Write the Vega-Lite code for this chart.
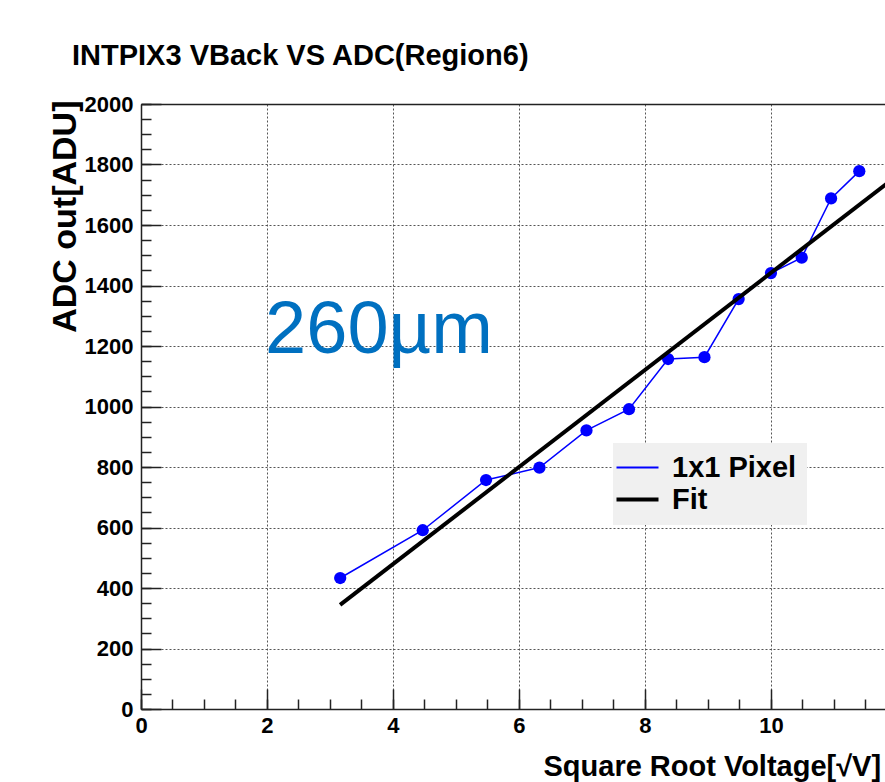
{
  "$schema": "https://vega.github.io/schema/vega-lite/v6.json",
  "autosize": {"type": "none"},
  "padding": {"left": 141, "top": 104, "right": 0, "bottom": 73},
  "width": 744,
  "height": 605,
  "background": "white",
  "title": {
    "text": "INTPIX3 VBack VS ADC(Region6)",
    "anchor": "start",
    "frame": "group",
    "dx": -69,
    "offset": 22,
    "font": "Liberation Sans",
    "fontWeight": "bold",
    "fontSize": 29,
    "color": "black"
  },
  "config": {
    "view": {"stroke": null},
    "axis": {
      "domainColor": "#222",
      "domainWidth": 1.5,
      "tickColor": "#222",
      "tickWidth": 1.5,
      "labelFont": "Liberation Sans",
      "labelFontWeight": "bold",
      "labelFontSize": 22,
      "labelColor": "black",
      "titleFont": "Liberation Sans",
      "titleFontWeight": "bold",
      "titleColor": "black",
      "gridColor": "#555",
      "gridDash": [2, 2],
      "gridWidth": 1
    },
    "legend": {
      "orient": "none",
      "legendX": 472,
      "legendY": 339,
      "fillColor": "#f0f0f0",
      "padding": 10,
      "labelFont": "Liberation Sans",
      "labelFontWeight": "bold",
      "labelFontSize": 29,
      "labelColor": "black",
      "symbolType": "stroke",
      "symbolSize": 1764,
      "symbolStrokeWidth": 3,
      "rowPadding": 2,
      "labelOffset": 20
    }
  },
  "datasets": {
    "pts": [
      {"series": "1x1 Pixel", "x": 3.162, "y": 433},
      {"series": "1x1 Pixel", "x": 4.472, "y": 591},
      {"series": "1x1 Pixel", "x": 5.477, "y": 757},
      {"series": "1x1 Pixel", "x": 6.325, "y": 798},
      {"series": "1x1 Pixel", "x": 7.071, "y": 921},
      {"series": "1x1 Pixel", "x": 7.746, "y": 991},
      {"series": "1x1 Pixel", "x": 8.367, "y": 1157},
      {"series": "1x1 Pixel", "x": 8.944, "y": 1163},
      {"series": "1x1 Pixel", "x": 9.487, "y": 1355},
      {"series": "1x1 Pixel", "x": 10.0, "y": 1441},
      {"series": "1x1 Pixel", "x": 10.488, "y": 1492},
      {"series": "1x1 Pixel", "x": 10.954, "y": 1688},
      {"series": "1x1 Pixel", "x": 11.402, "y": 1778}
    ],
    "fit": [
      {"series": "Fit", "x": 3.16, "y": 344},
      {"series": "Fit", "x": 12.0, "y": 1763}
    ],
    "note": [
      {"x": 1.97, "y": 1177, "label": "260µm"}
    ]
  },
  "resolve": {"axis": {"x": "independent", "y": "independent"}},
  "layer": [
    {
      "data": {"name": "pts"},
      "mark": {"type": "line", "strokeWidth": 1.5, "clip": true, "point": {"filled": true, "size": 150, "opacity": 1}},
      "encoding": {
        "x": {
          "field": "x", "type": "quantitative",
          "scale": {"domain": [0, 11.81], "nice": false, "zero": false},
          "axis": {
            "orient": "bottom",
            "values": [0, 2, 4, 6, 8, 10],
            "tickSize": -20,
            "labelPadding": 26,
            "labelBaseline": "top",
            "grid": true,
            "title": "Square Root Voltage[√V]",
            "titleFontSize": 29,
            "titleAnchor": "start",
            "titleAlign": "left",
            "titleBaseline": "alphabetic",
            "titleX": 402,
            "titleY": 66,
            "labelFlush": false
          }
        },
        "y": {
          "field": "y", "type": "quantitative",
          "scale": {"domain": [0, 2000], "nice": false},
          "axis": {
            "orient": "left",
            "values": [0, 200, 400, 600, 800, 1000, 1200, 1400, 1600, 1800, 2000],
            "format": "d",
            "tickSize": -20,
            "labelPadding": 28,
            "grid": true,
            "title": "ADC out[ADU]",
            "titleFontSize": 34,
            "titleAngle": 270,
            "titleAlign": "right",
            "titleBaseline": "alphabetic",
            "titleX": -66,
            "titleY": -4,
            "labelFlush": false
          }
        },
        "color": {
          "field": "series", "type": "nominal",
          "scale": {"domain": ["1x1 Pixel", "Fit"], "range": ["#0000ff", "#000000"]},
          "legend": {
            "title": null,
            "encode": {"symbols": {"update": {"strokeWidth": {"signal": "datum.value === 'Fit' ? 4 : 2"}}}}
          }
        }
      }
    },
    {
      "data": {"name": "fit"},
      "mark": {"type": "line", "strokeWidth": 4, "clip": true},
      "encoding": {
        "x": {
          "field": "x", "type": "quantitative",
          "axis": {
            "orient": "bottom",
            "values": [0, 0.5, 1, 1.5, 2, 2.5, 3, 3.5, 4, 4.5, 5, 5.5, 6, 6.5, 7, 7.5, 8, 8.5, 9, 9.5, 10, 10.5, 11, 11.5],
            "tickSize": -10,
            "labels": false,
            "domain": false,
            "grid": false,
            "title": null
          }
        },
        "y": {
          "field": "y", "type": "quantitative",
          "axis": {
            "orient": "left",
            "values": [0, 50, 100, 150, 200, 250, 300, 350, 400, 450, 500, 550, 600, 650, 700, 750, 800, 850, 900, 950, 1000, 1050, 1100, 1150, 1200, 1250, 1300, 1350, 1400, 1450, 1500, 1550, 1600, 1650, 1700, 1750, 1800, 1850, 1900, 1950, 2000],
            "tickSize": -10,
            "labels": false,
            "domain": false,
            "grid": false,
            "title": null
          }
        },
        "color": {"field": "series", "type": "nominal"}
      }
    },
    {
      "data": {"name": "note"},
      "mark": {"type": "text", "font": "Liberation Sans", "fontSize": 74, "color": "#0070c0", "align": "left", "baseline": "alphabetic"},
      "encoding": {
        "x": {
          "field": "x", "type": "quantitative",
          "axis": {"orient": "top", "ticks": false, "labels": false, "grid": false, "domain": true, "title": null}
        },
        "y": {"field": "y", "type": "quantitative", "axis": null},
        "text": {"field": "label"}
      }
    }
  ]
}
